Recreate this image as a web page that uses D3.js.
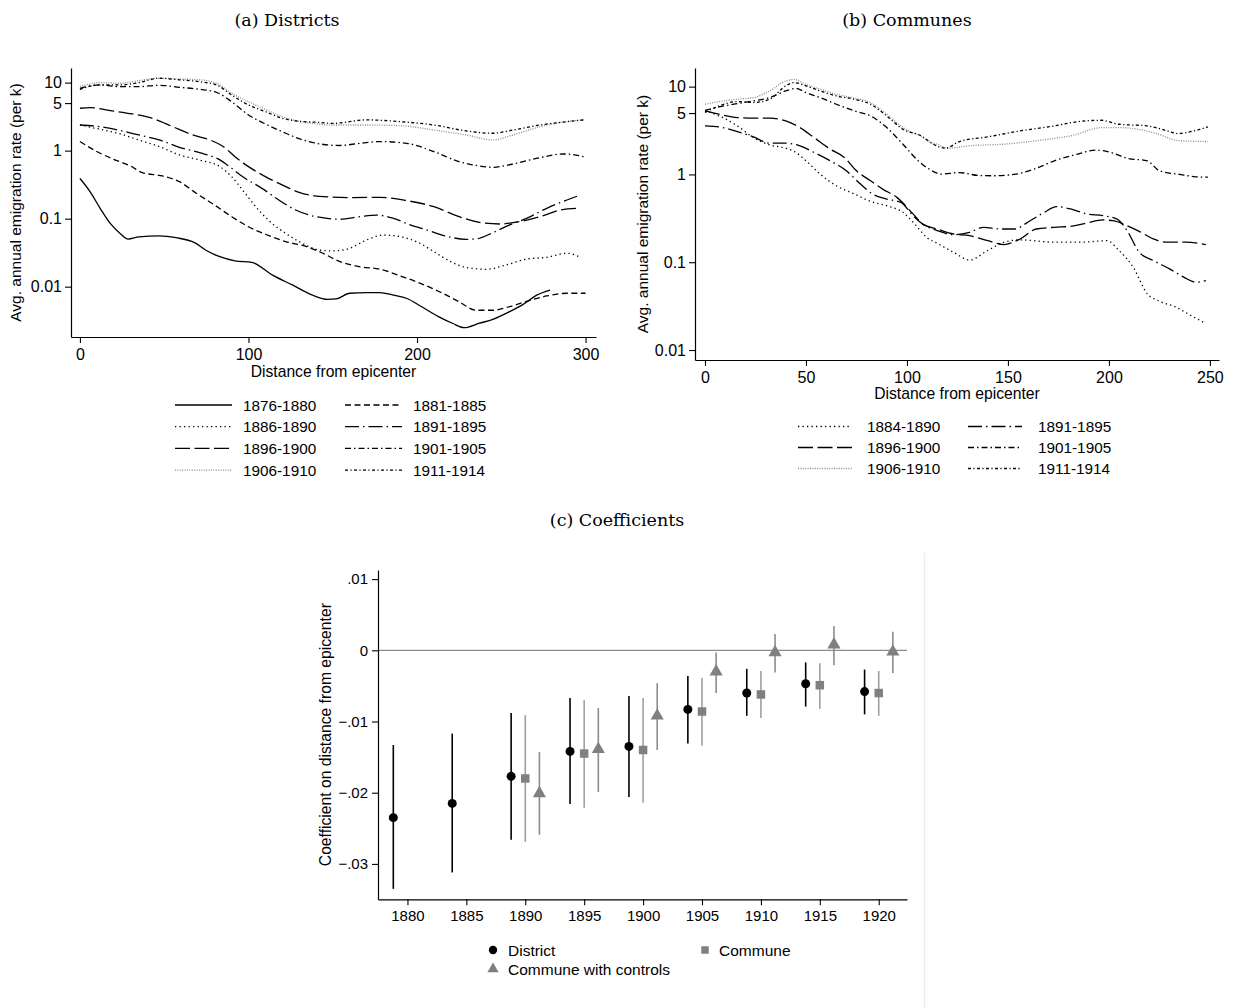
<!DOCTYPE html>
<html>
<head>
<meta charset="utf-8">
<script src="https://cdn.jsdelivr.net/npm/d3@7"></script>
<style>
body { margin: 0; background: #fff; }
text { font-family: "Liberation Sans", Arial, sans-serif; fill: #000; }
.title { font-family: "DejaVu Serif", "Liberation Serif", serif; font-size: 17.5px; }
</style>
</head>
<body>
<svg id="chart" width="1233" height="1008"></svg>
<script>
// ---- panel (a): districts, distance (km) vs avg. annual emigration rate (per k)
var dist1876 = [[0,0.39],[6,0.25],[12,0.142],[18,0.085],[24,0.06],[28.5,0.05],[35,0.054],[47,0.056],[57,0.0525],[68,0.0444],[75,0.034],[83,0.0276],[92,0.024],[102,0.0228],[114,0.0149],[126,0.0106],[138,0.0075],[147,0.0065],[152,0.0066],[160,0.008],[170,0.0082],[178,0.0082],[186,0.0075],[194,0.0067],[202,0.0052],[213,0.0036],[221,0.0029],[228,0.0025],[237,0.0029],[245,0.0033],[255,0.0043],[263,0.0055],[271,0.0075],[279,0.0089]]
var dist1881 = [[0,1.36],[10,0.97],[20,0.746],[30,0.595],[37,0.475],[49,0.424],[59,0.35],[69,0.236],[79,0.164],[90,0.107],[100,0.076],[110,0.059],[122,0.046],[134,0.039],[142,0.0327],[156,0.0225],[166,0.0197],[178,0.018],[190,0.0144],[202,0.0112],[213,0.0085],[225,0.006],[235,0.0045],[245,0.0045],[255,0.0051],[267,0.0063],[277,0.0073],[289,0.008],[300,0.008]]
var dist1886 = [[0,2.38],[12,2.06],[24,1.76],[35,1.43],[47,1.15],[59,0.863],[71,0.729],[83,0.582],[90,0.415],[98,0.236],[106,0.134],[114,0.085],[122,0.061],[130,0.046],[142,0.0346],[150,0.0335],[160,0.0366],[170,0.0485],[180,0.0575],[190,0.0543],[201,0.0444],[210,0.0327],[220,0.0233],[229,0.0192],[241,0.018],[253,0.0209],[265,0.0255],[277,0.027],[289,0.031],[297,0.027]]
var dist1891 = [[0,2.38],[12,2.25],[24,1.97],[35,1.7],[47,1.44],[59,1.12],[71,0.935],[83,0.73],[90,0.55],[98,0.392],[108,0.279],[118,0.188],[128,0.134],[136,0.113],[142,0.105],[154,0.098],[166,0.107],[176,0.113],[186,0.101],[196,0.081],[206,0.068],[217,0.0556],[229,0.0497],[235,0.0503],[245,0.0622],[255,0.081],[265,0.101],[277,0.142],[289,0.188],[297,0.223]]
var dist1896 = [[0,4.2],[6,4.29],[18,3.87],[31,3.46],[43,2.99],[55,2.25],[67,1.7],[77,1.44],[85,1.15],[92,0.816],[100,0.582],[110,0.415],[120,0.313],[130,0.244],[142,0.213],[160,0.204],[178,0.206],[194,0.184],[210,0.15],[225,0.107],[237,0.088],[249,0.0835],[261,0.0904],[273,0.107],[285,0.134],[296,0.142]]
var dist1901 = [[0,8.26],[12,9.25],[24,8.73],[35,8.73],[47,9.14],[59,8.53],[71,7.98],[81,7.21],[90,5.25],[100,3.35],[110,2.47],[120,1.9],[130,1.5],[142,1.26],[154,1.19],[166,1.28],[178,1.36],[194,1.28],[210,0.967],[225,0.689],[237,0.595],[245,0.569],[257,0.637],[273,0.789],[287,0.893],[299,0.816]]
var dist1906 = [[0,8.73],[12,10],[24,9.78],[35,10.7],[47,11.6],[59,11.3],[71,11],[81,9.78],[90,6.97],[100,5.25],[110,4.05],[120,3.16],[130,2.7],[142,2.45],[150,2.38],[170,2.38],[190,2.33],[210,2.01],[229,1.7],[245,1.44],[257,1.7],[273,2.25],[289,2.67],[299,2.83]]
var dist1911 = [[0,7.98],[12,9.25],[24,9.25],[35,10],[47,11.6],[59,11],[71,10.3],[81,9.25],[90,6.59],[100,4.69],[110,3.75],[120,2.99],[130,2.7],[142,2.6],[150,2.52],[170,2.83],[190,2.67],[210,2.38],[229,1.95],[245,1.8],[257,2.01],[273,2.38],[289,2.67],[299,2.83]]

// ---- panel (b): communes
var comm1884 = [[0,5.29],[7,4.64],[16,3.57],[24,2.63],[32,2.17],[40,1.99],[45,1.78],[50,1.43],[57,1.01],[65,0.743],[74,0.598],[82,0.493],[90,0.44],[98,0.37],[104,0.27],[110,0.19],[115,0.164],[123,0.13],[131,0.106],[140,0.136],[148,0.169],[156,0.18],[173,0.169],[186,0.169],[199,0.176],[205,0.136],[212,0.0877],[219,0.0437],[225,0.036],[233,0.0309],[242,0.0237],[248,0.02]]
var comm1891 = [[0,3.57],[7,3.48],[16,3.08],[24,2.68],[32,2.27],[40,2.27],[47,2.12],[54,1.78],[62,1.43],[70,1.1],[77,0.776],[83,0.598],[90,0.525],[97,0.48],[103,0.339],[108,0.27],[115,0.229],[123,0.206],[131,0.219],[138,0.25],[146,0.239],[153,0.239],[161,0.297],[168,0.37],[174,0.43],[181,0.404],[189,0.355],[197,0.339],[204,0.31],[209,0.229],[215,0.13],[222,0.1045],[230,0.084],[237,0.0676],[243,0.0593],[248,0.0617]]
var comm1896 = [[0,5.29],[7,4.85],[16,4.44],[24,4.37],[32,4.37],[40,4.07],[47,3.42],[54,2.63],[62,1.94],[69,1.56],[75,1.1],[82,0.847],[88,0.681],[95,0.548],[103,0.355],[108,0.27],[115,0.239],[123,0.21],[131,0.201],[140,0.176],[148,0.159],[156,0.184],[164,0.239],[173,0.25],[181,0.256],[189,0.28],[197,0.303],[202,0.297],[209,0.261],[215,0.225],[222,0.184],[229,0.169],[238,0.169],[248,0.159]]
var comm1901 = [[0,5.38],[7,5.87],[16,6.41],[24,6.87],[32,7.5],[40,8.93],[45,9.57],[50,8.55],[57,7.5],[65,6.3],[74,5.29],[82,4.64],[90,3.42],[98,2.21],[106,1.4],[111,1.15],[117,1.01],[126,1.05],[136,0.97],[143,0.966],[153,1],[163,1.15],[173,1.43],[183,1.67],[194,1.89],[201,1.78],[209,1.53],[219,1.43],[225,1.1],[235,1],[243,0.94],[249,0.93]]
var comm1906 = [[0,6.3],[7,6.76],[16,7.18],[24,7.5],[32,8.93],[40,11.6],[44,12.1],[50,10.6],[57,9.33],[65,8.18],[74,7.37],[82,6.58],[90,4.85],[98,3.42],[107,2.7],[112,2.3],[115,2.21],[120,1.99],[131,2.12],[148,2.21],[164,2.42],[181,2.75],[197,3.42],[205,3.42],[222,3],[235,2.42],[249,2.37]]
var comm1911 = [[0,5.07],[7,6.03],[16,6.76],[24,6.6],[32,7.18],[40,10.2],[44,11.1],[50,10.2],[57,8.93],[65,7.83],[74,7.18],[82,6.3],[90,4.64],[98,3.27],[107,2.75],[113,2.21],[119,1.99],[126,2.37],[140,2.68],[156,3.13],[173,3.57],[184,3.97],[196,4.14],[205,3.73],[219,3.57],[229,3.13],[234,2.92],[242,3.13],[249,3.48]]

var periodsA = ['1876-1880', '1881-1885', '1886-1890', '1891-1895', '1896-1900', '1901-1905', '1906-1910', '1911-1914']
var seriesA = [dist1876, dist1881, dist1886, dist1891, dist1896, dist1901, dist1906, dist1911]
var periodsB = ['1884-1890', '1891-1895', '1896-1900', '1901-1905', '1906-1910', '1911-1914']
var seriesB = [comm1884, comm1891, comm1896, comm1901, comm1906, comm1911]

var logTicksA = [0.01, 0.1, 1, 5, 10]
var logTicksB = [0.01, 0.1, 1, 5, 10]
var distTicksA = [0, 100, 200, 300]
var distTicksB = [0, 50, 100, 150, 200, 250]

// ---- panel (c): coefficients with confidence intervals
var districtYear = [1878.8, 1883.8, 1888.8, 1893.8, 1898.8, 1903.8, 1908.8, 1913.8, 1918.8]
var districtCoef = [-0.0235, -0.0215, -0.0177, -0.0142, -0.0135, -0.0083, -0.0060, -0.0047, -0.0058]
var districtLo = [-0.0335, -0.0312, -0.0266, -0.0216, -0.0206, -0.0131, -0.0092, -0.0079, -0.0090]
var districtHi = [-0.0133, -0.0117, -0.0088, -0.0067, -0.0064, -0.0036, -0.0026, -0.0017, -0.0027]

var communeYear = [1890, 1895, 1900, 1905, 1910, 1915, 1920]
var communeCoef = [-0.0180, -0.0145, -0.0140, -0.0086, -0.0062, -0.0049, -0.0060]
var communeLo = [-0.0269, -0.0221, -0.0214, -0.0134, -0.0095, -0.0082, -0.0092]
var communeHi = [-0.0091, -0.0070, -0.0067, -0.0039, -0.0029, -0.0018, -0.0029]

var controlsYear = [1891.2, 1896.2, 1901.2, 1906.2, 1911.2, 1916.2, 1921.2]
var controlsCoef = [-0.0201, -0.0139, -0.0092, -0.0030, -0.0003, 0.0008, -0.0002]
var controlsLo = [-0.0259, -0.0199, -0.0140, -0.0060, -0.0031, -0.0021, -0.0032]
var controlsHi = [-0.0143, -0.0081, -0.0046, -0.0003, 0.0023, 0.0034, 0.0026]

var coefTicks = [0.01, 0, -0.01, -0.02, -0.03]
var yearTicks = [1880, 1885, 1890, 1895, 1900, 1905, 1910, 1915, 1920]

var styles = {
  '1876-1880': { dash: null, color: '#000' },
  '1881-1885': { dash: '6,3.5', color: '#000' },
  '1884-1890': { dash: '1.3,3.2', color: '#000' },
  '1886-1890': { dash: '1.3,3.2', color: '#000' },
  '1891-1895': { dash: '14,4,1.5,4', color: '#000' },
  '1896-1900': { dash: '15,4.5', color: '#000' },
  '1901-1905': { dash: '6,3,1.5,3', color: '#000' },
  '1906-1910': { dash: '1,1.4', color: '#8a8a8a' },
  '1911-1914': { dash: '3,2.4,1.2,2.4', color: '#000' }
}

var svg = d3.select('#chart')

function fmtLog (d) {
  return d < 1 ? String(d) : d3.format('d')(d)
}

function styleAxis (g, size) {
  g.selectAll('path.domain').attr('stroke', '#000').attr('stroke-width', 1.2)
  g.selectAll('.tick line').attr('stroke', '#000').attr('stroke-width', 1.1)
  g.selectAll('.tick text').attr('font-family', '"Liberation Sans", Arial, sans-serif')
    .attr('font-size', size).attr('fill', '#000')
}

function linePanel (opt) {
  var x = d3.scaleLinear().domain(opt.xDomain).range([opt.left, opt.right])
  var y = d3.scaleLog().domain(opt.yDomain).range([opt.bottom, opt.top])
  var g = svg.append('g')

  var line = d3.line()
    .x(function (d) { return x(d[0]) })
    .y(function (d) { return y(d[1]) })
    .curve(d3.curveMonotoneX)

  opt.series.forEach(function (s, i) {
    var st = styles[opt.periods[i]]
    g.append('path')
      .attr('d', line(s))
      .attr('fill', 'none')
      .attr('stroke', st.color)
      .attr('stroke-width', 1.3)
      .attr('stroke-dasharray', st.dash)
  })

  var ax = g.append('g')
    .attr('transform', 'translate(0,' + opt.bottom + ')')
    .call(d3.axisBottom(x).tickValues(opt.xTicks).tickSize(6).tickSizeOuter(0).tickPadding(6))
  styleAxis(ax, 16)

  var ay = g.append('g')
    .attr('transform', 'translate(' + opt.left + ',0)')
    .call(d3.axisLeft(y).tickValues(opt.yTicks).tickFormat(fmtLog).tickSize(6).tickSizeOuter(0).tickPadding(3))
  styleAxis(ay, 16)

  g.append('text')
    .attr('x', (opt.left + opt.right) / 2)
    .attr('y', opt.xLabelY)
    .attr('text-anchor', 'middle')
    .attr('font-size', 15.7)
    .text('Distance from epicenter')

  g.append('text')
    .attr('transform', 'translate(' + opt.yLabelX + ',' + ((opt.top + opt.bottom) / 2) + ') rotate(-90)')
    .attr('text-anchor', 'middle')
    .attr('font-size', 15.5)
    .text('Avg. annual emigration rate (per k)')

  // two-column legend below the axis
  var lg = g.append('g')
  opt.legendOrder.forEach(function (p, i) {
    var col = i % 2
    var row = Math.floor(i / 2)
    var lx = opt.legendX[col]
    var ly = opt.legendY + row * opt.legendStep
    var st = styles[p]
    lg.append('line')
      .attr('x1', lx).attr('x2', lx + opt.legendLen)
      .attr('y1', ly).attr('y2', ly)
      .attr('stroke', st.color)
      .attr('stroke-width', 1.3)
      .attr('stroke-dasharray', st.dash)
    lg.append('text')
      .attr('x', opt.labelX[col])
      .attr('y', ly + 5.5)
      .attr('font-size', 15.3)
      .text(p)
  })
}

// (a) Districts
svg.append('text').attr('class', 'title').attr('x', 287).attr('y', 26).attr('text-anchor', 'middle').text('(a) Districts')
linePanel({
  left: 71, right: 596, top: 68, bottom: 337,
  xDomain: [-5.3, 306.2], yDomain: [0.00182, 16.4],
  xTicks: distTicksA, yTicks: logTicksA,
  series: seriesA, periods: periodsA,
  xLabelY: 377, yLabelX: 21,
  legendOrder: periodsA, legendX: [175, 345], labelX: [243, 413], legendY: 405, legendStep: 21.7, legendLen: 57
})

// (b) Communes
svg.append('text').attr('class', 'title').attr('x', 907).attr('y', 26).attr('text-anchor', 'middle').text('(b) Communes')
linePanel({
  left: 695, right: 1219, top: 68, bottom: 360,
  xDomain: [-4.95, 254.5], yDomain: [0.0077, 16.3],
  xTicks: distTicksB, yTicks: logTicksB,
  series: seriesB, periods: periodsB,
  xLabelY: 399, yLabelX: 648,
  legendOrder: periodsB, legendX: [798, 968], labelX: [867, 1038], legendY: 426.5, legendStep: 21, legendLen: 54
})

// (c) Coefficients
svg.append('text').attr('class', 'title').attr('x', 617).attr('y', 526).attr('text-anchor', 'middle').text('(c) Coefficients')

var cx = d3.scaleLinear().domain([1877.5, 1922.4]).range([378, 907])
var cy = d3.scaleLinear().domain([-0.03497, 0.01128]).range([899.3, 570])
var gc = svg.append('g')

// faint border of the graph region
gc.append('line').attr('x1', 924.5).attr('x2', 924.5).attr('y1', 553).attr('y2', 1008)
  .attr('stroke', '#e6f0f2').attr('stroke-width', 1.5)

gc.append('line')
  .attr('x1', 378).attr('x2', 907)
  .attr('y1', cy(0)).attr('y2', cy(0))
  .attr('stroke', '#8c8c8c').attr('stroke-width', 1.3)

function coefSeries (years, coef, lo, hi, ciColor, drawMarker) {
  years.forEach(function (yr, i) {
    gc.append('line')
      .attr('x1', cx(yr)).attr('x2', cx(yr))
      .attr('y1', cy(lo[i])).attr('y2', cy(hi[i]))
      .attr('stroke', ciColor).attr('stroke-width', 1.6)
    drawMarker(cx(yr), cy(coef[i]))
  })
}

function circleMark (px, py, r) {
  gc.append('circle').attr('cx', px).attr('cy', py).attr('r', r || 4.5).attr('fill', '#000')
}
function squareMark (px, py, s) {
  s = s || 8.5
  gc.append('rect').attr('x', px - s / 2).attr('y', py - s / 2).attr('width', s).attr('height', s).attr('fill', '#808080')
}
function triangleMark (px, py, size) {
  gc.append('path')
    .attr('d', d3.symbol().type(d3.symbolTriangle).size(size || 75)())
    .attr('transform', 'translate(' + px + ',' + py + ')')
    .attr('fill', '#808080')
}

coefSeries(controlsYear, controlsCoef, controlsLo, controlsHi, '#8c8c8c', triangleMark)
coefSeries(communeYear, communeCoef, communeLo, communeHi, '#a0a0a0', squareMark)
coefSeries(districtYear, districtCoef, districtLo, districtHi, '#000', circleMark)

var cax = gc.append('g')
  .attr('transform', 'translate(0,899.3)')
  .call(d3.axisBottom(cx).tickValues(yearTicks).tickFormat(d3.format('d')).tickSize(6).tickSizeOuter(0).tickPadding(5))
styleAxis(cax, 15)

var cay = gc.append('g')
  .attr('transform', 'translate(378,0)')
  .call(d3.axisLeft(cy).tickValues(coefTicks).tickFormat(function (d) {
    return d === 0 ? '0' : d3.format('.2f')(d).replace('0.', '.')
  }).tickSize(6).tickSizeOuter(0).tickPadding(4))
styleAxis(cay, 15)

gc.append('text')
  .attr('transform', 'translate(331,' + ((570 + 899.3) / 2) + ') rotate(-90)')
  .attr('text-anchor', 'middle')
  .attr('font-size', 15.7)
  .text('Coefficient on distance from epicenter')

// legend (c)
circleMark(493, 950, 4.2)
gc.append('text').attr('x', 508).attr('y', 955.5).attr('font-size', 15.5).text('District')
squareMark(705, 950, 7.5)
gc.append('text').attr('x', 719).attr('y', 955.5).attr('font-size', 15.5).text('Commune')
triangleMark(493, 969, 55)
gc.append('text').attr('x', 508).attr('y', 974.5).attr('font-size', 15.5).text('Commune with controls')
</script>
</body>
</html>
